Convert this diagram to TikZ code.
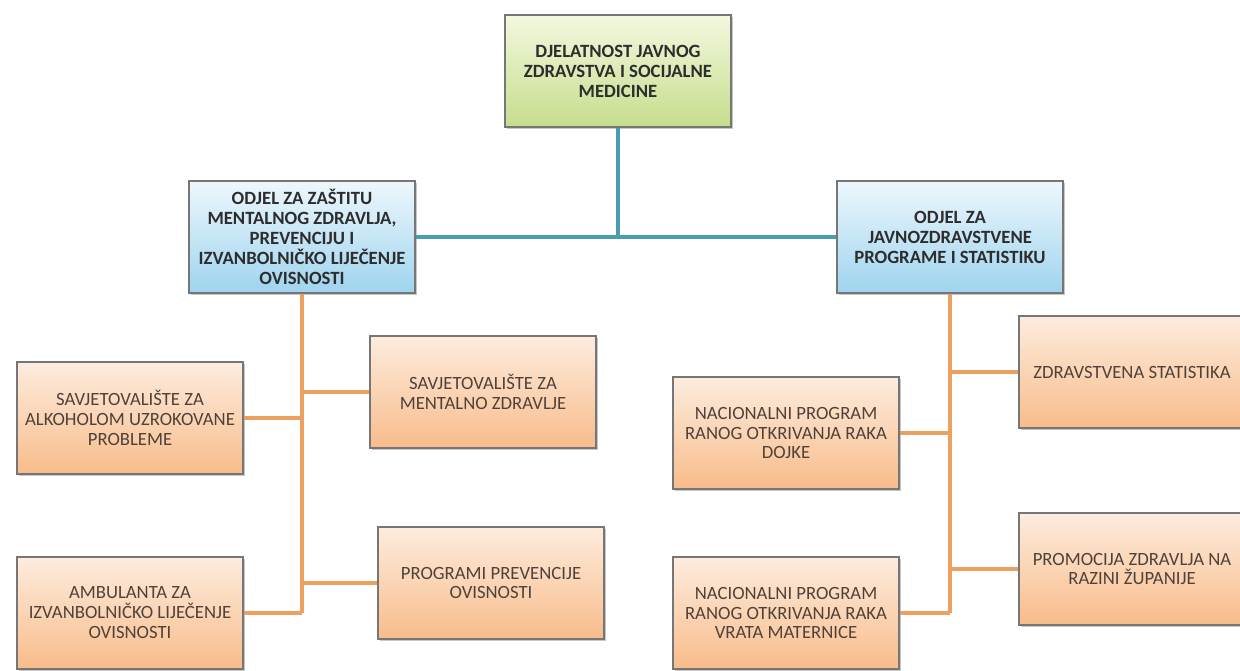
\documentclass[tikz,border=0pt]{standalone}
\usepackage{fontspec}
\setmainfont{Carlito}
\usetikzlibrary{shadows, positioning}
\definecolor{topgreenA}{RGB}{243,248,224}
\definecolor{topgreenB}{RGB}{198,221,140}
\definecolor{deptblueA}{RGB}{238,247,253}
\definecolor{deptblueB}{RGB}{158,212,238}
\definecolor{unitorangeA}{RGB}{253,236,222}
\definecolor{unitorangeB}{RGB}{248,188,138}
\definecolor{linkblue}{RGB}{72,156,180}
\definecolor{linkorange}{RGB}{236,160,96}
\definecolor{framegray}{RGB}{118,118,118}
\definecolor{textdark}{RGB}{45,45,45}
\definecolor{textbrown}{RGB}{78,66,58}

\begin{document}
\begin{tikzpicture}[
    x=0.025cm, y=-0.025cm,
    orgbox/.style={rectangle, draw=framegray, line width=0.9pt, minimum width=5.65cm, minimum height=2.8cm, align=center, text=textdark, inner sep=2pt, font=\fontsize{13.3}{14.2}\selectfont, drop shadow={shadow xshift=1.2pt, shadow yshift=-1.2pt, opacity=0.45}},
    topbox/.style={orgbox, top color=topgreenA, bottom color=topgreenB, font=\fontsize{13.3}{14.2}\selectfont\bfseries},
    deptbox/.style={orgbox, top color=deptblueA, bottom color=deptblueB, font=\fontsize{13.3}{14.2}\selectfont\bfseries},
    secbox/.style={orgbox, top color=unitorangeA, bottom color=unitorangeB, text=textbrown},
    blueline/.style={line width=3.5pt, color=linkblue},
    orangeline/.style={line width=3pt, color=linkorange},
]
\useasboundingbox (0,0) rectangle (1240,670);

% Top
\node[topbox] (top) at (618,71) {DJELATNOST JAVNOG\\ZDRAVSTVA I SOCIJALNE\\MEDICINE};

% Departments
\node[deptbox] (mental) at (302,237) {ODJEL ZA ZAŠTITU\\MENTALNOG ZDRAVLJA,\\PREVENCIJU I\\IZVANBOLNIČKO LIJEČENJE\\OVISNOSTI};
\node[deptbox] (javno) at (950,237) {ODJEL ZA\\JAVNOZDRAVSTVENE\\PROGRAME I STATISTIKU};

\draw[blueline] (top) -- (top |- javno.west);
\draw[blueline] (mental) -- (javno);

% Left sections
\node[secbox] (alkohol) at (130,418) {SAVJETOVALIŠTE ZA\\ALKOHOLOM UZROKOVANE\\PROBLEME};
\node[secbox] (savmental) at (483,392) {SAVJETOVALIŠTE ZA\\MENTALNO ZDRAVLJE};
\node[secbox] (ambulanta) at (130,613) {AMBULANTA ZA\\IZVANBOLNIČKO LIJEČENJE\\OVISNOSTI};
\node[secbox] (prevencija) at (491,583) {PROGRAMI PREVENCIJE\\OVISNOSTI};

\draw[orangeline] (mental) -- (mental |- ambulanta.east);
\draw[orangeline] (alkohol) -- (alkohol -| mental.south);
\draw[orangeline] (savmental) -- (savmental -| mental.south);
\draw[orangeline] (ambulanta) -- (ambulanta -| mental.south);
\draw[orangeline] (prevencija) -- (prevencija -| mental.south);

% Right sections
\node[secbox] (statistika) at (1132,372) {ZDRAVSTVENA STATISTIKA};
\node[secbox] (dojke) at (786,433) {NACIONALNI PROGRAM\\RANOG OTKRIVANJA RAKA\\DOJKE};
\node[secbox] (promocija) at (1132,569) {PROMOCIJA ZDRAVLJA NA\\RAZINI ŽUPANIJE};
\node[secbox] (vrata) at (786,613) {NACIONALNI PROGRAM\\RANOG OTKRIVANJA RAKA\\VRATA MATERNICE};

\draw[orangeline] (javno) -- (javno |- vrata.east);
\draw[orangeline] (statistika) -- (statistika -| javno.south);
\draw[orangeline] (dojke) -- (dojke -| javno.south);
\draw[orangeline] (promocija) -- (promocija -| javno.south);
\draw[orangeline] (vrata) -- (vrata -| javno.south);

\end{tikzpicture}
\end{document}
